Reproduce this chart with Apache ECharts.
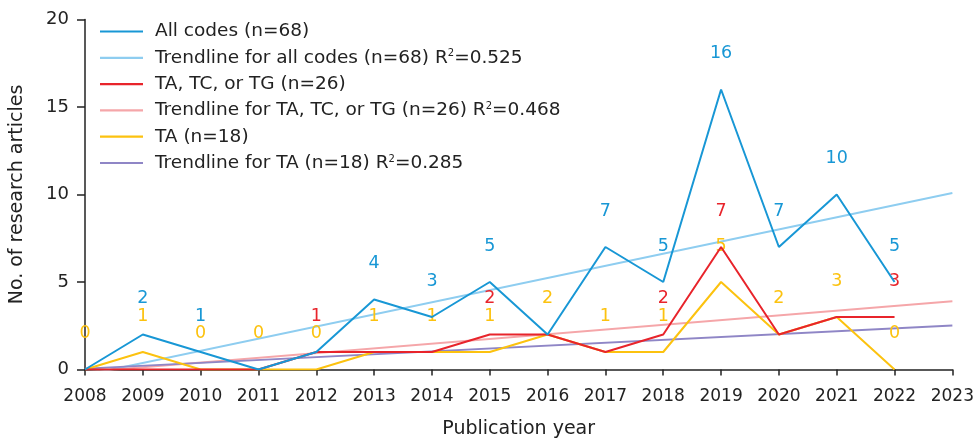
<!DOCTYPE html>
<html>
<head>
<meta charset="utf-8">
<script src="https://cdn.jsdelivr.net/npm/echarts@6/dist/echarts.min.js"></script>
<style>html,body{margin:0;padding:0;background:#fff}#c{width:977px;height:444px}</style>
</head>
<body>
<div id="c"></div>
<script>
var years = [2008, 2009, 2010, 2011, 2012, 2013, 2014, 2015, 2016, 2017, 2018, 2019, 2020, 2021, 2022];
var allCodes = [0, 2, 1, 0, 1, 4, 3, 5, 2, 7, 5, 16, 7, 10, 5];
var taTcTg = [0, 0, 0, 0, 1, 1, 1, 2, 2, 1, 2, 7, 2, 3, 3];
var taOnly = [0, 1, 0, 0, 0, 1, 1, 1, 2, 1, 1, 5, 2, 3, 0];
// trendline endpoints (at 2008 and 2023)
var trendYears = [2008, 2023];
var trendAll = [-0.32, 10.08];
var trendTaTcTg = [-0.14, 3.9];
var trendTa = [0.05, 2.51];
// which value labels are visible in the reference
var showAll = [0, 1, 1, 0, 0, 1, 1, 1, 0, 1, 1, 1, 1, 1, 1];
var showRed = [0, 0, 0, 0, 1, 0, 0, 1, 0, 0, 1, 1, 0, 0, 1];
var showTa = [1, 1, 1, 1, 1, 1, 1, 1, 1, 1, 1, 1, 1, 1, 1];
var xTicks = [2008, 2023, 1];
var yTicks = [0, 20, 5];

var C = {
  all: '#1897d5', allT: '#8ecdf0',
  red: '#e8242b', redT: '#f5a6a9',
  ta: '#fcc20f', taT: '#8f86c6'
};
var FONT = '"DejaVu Sans", sans-serif';

function pts(xs, ys, show) {
  return xs.map(function (x, i) {
    var d = { value: [x, ys[i]] };
    if (show) d.label = { show: !!show[i] };
    return d;
  });
}
function lineSeries(name, xs, ys, show, color, z) {
  return {
    name: name, type: 'line', data: pts(xs, ys, show),
    symbol: 'circle', symbolSize: 0.01, showSymbol: true, z: z,
    lineStyle: { color: color, width: 2 },
    itemStyle: { color: color },
    label: { show: false, position: 'top', distance: 27, color: color, fontSize: 17.5, fontFamily: FONT },
    labelLayout: { hideOverlap: false },
    emphasis: { disabled: true },
    animation: false
  };
}

var chart = echarts.init(document.getElementById('c'), null, { renderer: 'canvas' });
chart.setOption({
  animation: false,
  backgroundColor: '#fff',
  grid: { left: 85, right: 24, top: 19.5, bottom: 74.5, containLabel: false },
  legend: {
    orient: 'vertical', left: 95, top: 17, itemWidth: 43, itemHeight: 18, itemGap: 7.3,
    textStyle: {
      fontSize: 18.5, fontFamily: FONT, color: '#222', padding: [0, 0, 0, 7], lineHeight: 18,
      rich: {
        t: { fontSize: 18.5, fontFamily: FONT, color: '#222', lineHeight: 18 },
        s: { fontSize: 10, fontFamily: FONT, color: '#222', lineHeight: 18, verticalAlign: 'top' }
      }
    },
    formatter: function (n) {
      var m = n.split('R^2');
      if (m.length === 1) return '{t|' + n + '}';
      return '{t|' + m[0] + 'R}{s|2}{t|' + m[1] + '}';
    },
    icon: 'path://M0,0L43,0L43,2.2L0,2.2Z',
    data: [
      'All codes (n=68)',
      'Trendline for all codes (n=68) R^2=0.525',
      'TA, TC, or TG (n=26)',
      'Trendline for TA, TC, or TG (n=26) R^2=0.468',
      'TA (n=18)',
      'Trendline for TA (n=18) R^2=0.285'
    ]
  },
  xAxis: {
    type: 'value', min: xTicks[0], max: xTicks[1], interval: xTicks[2],
    name: 'Publication year', nameLocation: 'middle', nameGap: 50,
    nameTextStyle: { fontSize: 19, fontFamily: FONT, color: '#222' },
    axisLine: { show: true, lineStyle: { color: '#222', width: 1.5 } },
    axisTick: { show: true, length: 6, lineStyle: { color: '#222', width: 1.5 } },
    axisLabel: { fontSize: 17, fontFamily: FONT, color: '#222', margin: 19, formatter: function (v) { return String(v); } },
    splitLine: { show: false }
  },
  yAxis: {
    type: 'value', min: yTicks[0], max: yTicks[1], interval: yTicks[2],
    name: 'No. of research articles', nameLocation: 'middle', nameGap: 58, nameRotate: 90,
    nameTextStyle: { fontSize: 19, fontFamily: FONT, color: '#222' },
    axisLine: { show: true, lineStyle: { color: '#222', width: 1.5 } },
    axisTick: { show: true, length: 8, lineStyle: { color: '#222', width: 1.5 } },
    axisLabel: { fontSize: 18, fontFamily: FONT, color: '#222', margin: 16 },
    splitLine: { show: false }
  },
  series: [
    lineSeries('Trendline for all codes (n=68) R^2=0.525', trendYears, trendAll, null, C.allT, 1),
    lineSeries('Trendline for TA, TC, or TG (n=26) R^2=0.468', trendYears, trendTaTcTg, null, C.redT, 1),
    lineSeries('Trendline for TA (n=18) R^2=0.285', trendYears, trendTa, null, C.taT, 1),
    lineSeries('TA (n=18)', years, taOnly, showTa, C.ta, 2),
    lineSeries('TA, TC, or TG (n=26)', years, taTcTg, showRed, C.red, 3),
    lineSeries('All codes (n=68)', years, allCodes, showAll, C.all, 4)
  ]
});
</script>
</body>
</html>
